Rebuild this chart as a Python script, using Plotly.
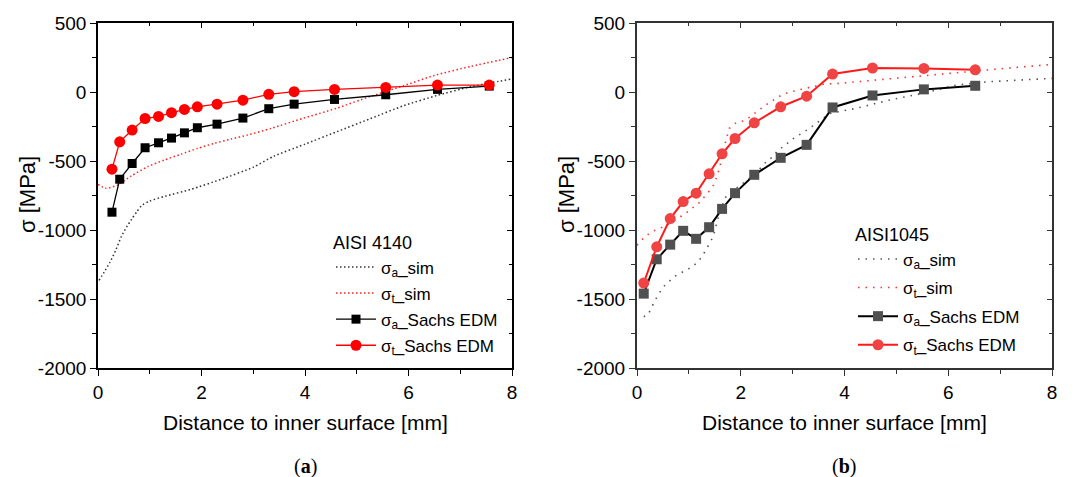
import plotly.graph_objects as go

# ---------------- Panel (a): AISI 4140 ----------------
a_sim_a_x = [0.02, 0.12, 0.23, 0.35, 0.45, 0.55, 0.65, 0.75, 0.85, 1.0, 1.3, 1.8, 2.4, 3.0, 3.4, 4.0, 4.6, 5.25, 5.9, 6.55, 7.2, 8.0]
a_sim_a_y = [-1365, -1305, -1235, -1140, -1048, -980, -922, -868, -820, -790, -755, -705, -630, -545, -465, -378, -290, -195, -100, -25, 38, 95]

a_sim_t_x = [0.0, 0.15, 0.38, 0.64, 0.96, 1.28, 1.6, 1.93, 2.25, 2.57, 2.89, 3.35, 3.96, 4.61, 5.25, 5.9, 6.5, 7.2, 8.0]
a_sim_t_y = [-670, -698, -674, -609, -541, -493, -451, -408, -372, -341, -312, -263, -191, -118, -34, 45, 120, 185, 250]

a_exp_x = [0.27, 0.42, 0.66, 0.91, 1.17, 1.42, 1.67, 1.92, 2.30, 2.80, 3.30, 3.79, 4.57, 5.56, 6.56, 7.56]
a_exp_a_y = [-871, -632, -518, -404, -368, -334, -296, -259, -233, -189, -121, -88, -54, -20, 19, 43]
a_exp_t_y = [-559, -361, -276, -192, -177, -150, -126, -107, -88, -59, -17, 2, 19, 33, 50, 50]

# ---------------- Panel (b): AISI1045 ----------------
b_sim_a_x = [0.13, 0.21, 0.28, 0.34, 0.42, 0.50, 0.61, 0.74, 0.87, 1.0, 1.13, 1.24, 1.32, 1.40, 1.47, 1.55, 1.64, 1.69, 1.80, 1.91, 2.04, 2.17, 2.26, 2.39, 2.49, 2.62, 2.71, 2.84, 2.97, 3.3, 3.72, 4.23, 4.87, 5.52, 6.16, 6.80, 8.0]
b_sim_a_y = [-1628, -1616, -1563, -1514, -1464, -1415, -1375, -1333, -1306, -1280, -1246, -1200, -1150, -1101, -1048, -930, -819, -770, -730, -698, -661, -625, -589, -548, -505, -469, -425, -391, -348, -270, -155, -118, -58, -9, 51, 75, 99]

b_sim_t_x = [0.0, 0.13, 0.28, 0.42, 0.55, 0.75, 0.94, 1.06, 1.19, 1.30, 1.40, 1.49, 1.59, 1.69, 1.78, 1.91, 2.04, 2.17, 2.30, 2.42, 2.55, 2.68, 2.81, 2.97, 3.59, 3.91, 4.62, 5.52, 6.48, 7.12, 8.0]
b_sim_t_y = [-1110, -1056, -1012, -993, -971, -925, -879, -843, -806, -759, -715, -667, -553, -384, -263, -222, -210, -183, -143, -111, -77, -46, -17, 2, 56, 63, 87, 123, 154, 172, 200]

b_exp_x = [0.13, 0.38, 0.64, 0.89, 1.14, 1.39, 1.64, 1.89, 2.26, 2.77, 3.27, 3.77, 4.54, 5.53, 6.52]
b_exp_a_y = [-1461, -1212, -1106, -1006, -1064, -980, -847, -733, -600, -477, -383, -112, -25, 19, 45]
b_exp_t_y = [-1384, -1122, -917, -794, -733, -593, -448, -337, -223, -107, -30, 130, 174, 171, 161]

# ---------------- Axes ticks / labels ----------------
y_tickvals = [-2000, -1500, -1000, -500, 0, 500]
y_ticktext = ["-2000", "-1500", "-1000", "-500", "0", "500"]
x_tickvals = [0, 2, 4, 6, 8]
x_ticktext = ["0", "2", "4", "6", "8"]
x_title = "Distance to inner surface [mm]"
y_title = "σ [MPa]"
legend_a_title = "AISI 4140"
legend_b_title = "AISI1045"
names = ["σ<sub>a</sub>_sim", "σ<sub>t</sub>_sim", "σ<sub>a</sub>_Sachs EDM", "σ<sub>t</sub>_Sachs EDM"]
panel_labels = ["(<b>a</b>)", "(<b>b</b>)"]

FONT = "Liberation Sans, Arial, sans-serif"

fig = go.Figure()

# Panel a traces
fig.add_trace(go.Scatter(x=a_sim_a_x, y=a_sim_a_y, mode="lines", name=names[0], legendgroup="a1",
                         line=dict(color="#333333", width=1.5, dash="1.5px,2.5px", shape="spline", smoothing=0.6),
                         xaxis="x", yaxis="y", legend="legend"))
fig.add_trace(go.Scatter(x=a_sim_t_x, y=a_sim_t_y, mode="lines", name=names[1], legendgroup="a2",
                         line=dict(color="#ff2020", width=1.5, dash="1.5px,2.5px", shape="spline", smoothing=0.6),
                         xaxis="x", yaxis="y", legend="legend"))
fig.add_trace(go.Scatter(x=a_exp_x, y=a_exp_a_y, mode="lines+markers", name=names[2], legendgroup="a3",
                         line=dict(color="black", width=1.3),
                         marker=dict(symbol="square", size=9, color="black"),
                         xaxis="x", yaxis="y", legend="legend"))
fig.add_trace(go.Scatter(x=a_exp_x, y=a_exp_t_y, mode="lines+markers", name=names[3], legendgroup="a4",
                         line=dict(color="#ff0000", width=1.3),
                         marker=dict(symbol="circle", size=11, color="#ff0000"),
                         xaxis="x", yaxis="y", legend="legend"))

# Panel b traces
fig.add_trace(go.Scatter(x=b_sim_a_x, y=b_sim_a_y, mode="lines", name=names[0], legendgroup="b1",
                         line=dict(color="#555555", width=1.6, dash="1.5px,6px"),
                         xaxis="x2", yaxis="y2", legend="legend2"))
fig.add_trace(go.Scatter(x=b_sim_t_x, y=b_sim_t_y, mode="lines", name=names[1], legendgroup="b2",
                         line=dict(color="#ff3030", width=1.6, dash="1.5px,6px"),
                         xaxis="x2", yaxis="y2", legend="legend2"))
fig.add_trace(go.Scatter(x=b_exp_x, y=b_exp_a_y, mode="lines+markers", name=names[2], legendgroup="b3",
                         line=dict(color="black", width=2),
                         marker=dict(symbol="square", size=10, color="#505050"),
                         xaxis="x2", yaxis="y2", legend="legend2"))
fig.add_trace(go.Scatter(x=b_exp_x, y=b_exp_t_y, mode="lines+markers", name=names[3], legendgroup="b4",
                         line=dict(color="#ff1a1a", width=2),
                         marker=dict(symbol="circle", size=11, color="#f04444"),
                         xaxis="x2", yaxis="y2", legend="legend2"))

# empty traces that activate the overlay (mirror) tick axes
for xa, ya in [("x3", "y"), ("x", "y3"), ("x4", "y2"), ("x2", "y4")]:
    fig.add_trace(go.Scatter(x=[None], y=[None], xaxis=xa, yaxis=ya, showlegend=False, hoverinfo="skip"))

X_DOM_A = [98 / 1077, 512 / 1077]
X_DOM_B = [637 / 1077, 1052 / 1077]
Y_DOM = [1 - 368 / 477, 1 - 23 / 477]


def main_x(domain, anchor, linecolor, lw):
    return dict(domain=domain, anchor=anchor, range=[0, 8], tickvals=x_tickvals, ticktext=x_ticktext,
                ticks="outside", ticklen=6, tickwidth=1.3, tickcolor=linecolor,
                minor=dict(dtick=1, tick0=0, ticks="outside", ticklen=4, tickwidth=1.3, tickcolor=linecolor),
                showline=True, linecolor=linecolor, linewidth=lw, mirror=True,
                showgrid=False, zeroline=False, automargin=False,
                tickfont=dict(family=FONT, size=19, color="black"))


def main_y(domain, anchor, linecolor, lw):
    return dict(domain=domain, anchor=anchor, range=[-2000, 500], tickvals=y_tickvals, ticktext=y_ticktext,
                ticks="outside", ticklen=6, tickwidth=1.3, tickcolor=linecolor,
                minor=dict(dtick=250, tick0=0, ticks="outside", ticklen=4, tickwidth=1.3, tickcolor=linecolor),
                showline=True, linecolor=linecolor, linewidth=lw, mirror=True,
                showgrid=False, zeroline=False, automargin=False,
                tickfont=dict(family=FONT, size=19, color="black"))


def over_x(over, anchor, linecolor):
    return dict(overlaying=over, anchor=anchor, side="top", range=[0, 8], tickvals=x_tickvals,
                ticks="inside", ticklen=5, tickwidth=1.3, tickcolor=linecolor, showticklabels=False,
                minor=dict(dtick=1, tick0=0, ticks="inside", ticklen=3, tickwidth=1.3, tickcolor=linecolor),
                showline=False, showgrid=False, zeroline=False, automargin=False)


def over_y(over, anchor, linecolor):
    return dict(overlaying=over, anchor=anchor, side="right", range=[-2000, 500], tickvals=y_tickvals,
                ticks="inside", ticklen=5, tickwidth=1.3, tickcolor=linecolor, showticklabels=False,
                minor=dict(dtick=250, tick0=0, ticks="inside", ticklen=3, tickwidth=1.3, tickcolor=linecolor),
                showline=False, showgrid=False, zeroline=False, automargin=False)


legend_common = dict(xanchor="left", yanchor="top", bgcolor="rgba(0,0,0,0)",
                     font=dict(family=FONT, size=17, color="black"), itemwidth=40,
                     itemsizing="trace")

fig.update_layout(
    width=1077, height=477,
    margin=dict(l=0, r=0, t=0, b=0, autoexpand=False),
    paper_bgcolor="white", plot_bgcolor="white",
    xaxis=main_x(X_DOM_A, "y", "black", 1.5),
    yaxis=main_y(Y_DOM, "x", "black", 1.5),
    xaxis2=main_x(X_DOM_B, "y2", "#333333", 2),
    yaxis2=main_y(Y_DOM, "x2", "#333333", 2),
    xaxis3=over_x("x", "y", "black"),
    yaxis3=over_y("y", "x", "black"),
    xaxis4=over_x("x2", "y2", "#333333"),
    yaxis4=over_y("y2", "x2", "#333333"),
    legend=dict(x=331 / 1077, y=1 - 226 / 477, tracegroupgap=1,
                title=dict(text=legend_a_title, font=dict(family=FONT, size=18, color="black")),
                **legend_common),
    legend2=dict(x=853 / 1077, y=1 - 218 / 477, tracegroupgap=3.5,
                 title=dict(text=legend_b_title, font=dict(family=FONT, size=18, color="black")),
                 **legend_common),
    showlegend=True,
)

# axis titles
for xc in [305 / 1077, 844 / 1077]:
    fig.add_annotation(text=x_title, x=xc, y=1 - 422 / 477, xref="paper", yref="paper",
                       showarrow=False, xanchor="center", yanchor="middle",
                       font=dict(family=FONT, size=21, color="black"))
for xc in [27 / 1077, 566 / 1077]:
    fig.add_annotation(text=y_title, x=xc, y=1 - 195 / 477, xref="paper", yref="paper",
                       showarrow=False, xanchor="center", yanchor="middle", textangle=-90,
                       font=dict(family=FONT, size=22, color="black"))

# panel labels
for lbl, xc in zip(panel_labels, [305 / 1077, 844 / 1077]):
    fig.add_annotation(text=lbl, x=xc, y=1 - 466 / 477, xref="paper", yref="paper",
                       showarrow=False, xanchor="center", yanchor="middle",
                       font=dict(family="Liberation Serif, DejaVu Serif, serif", size=20, color="black"))

fig.write_html("out.html")
